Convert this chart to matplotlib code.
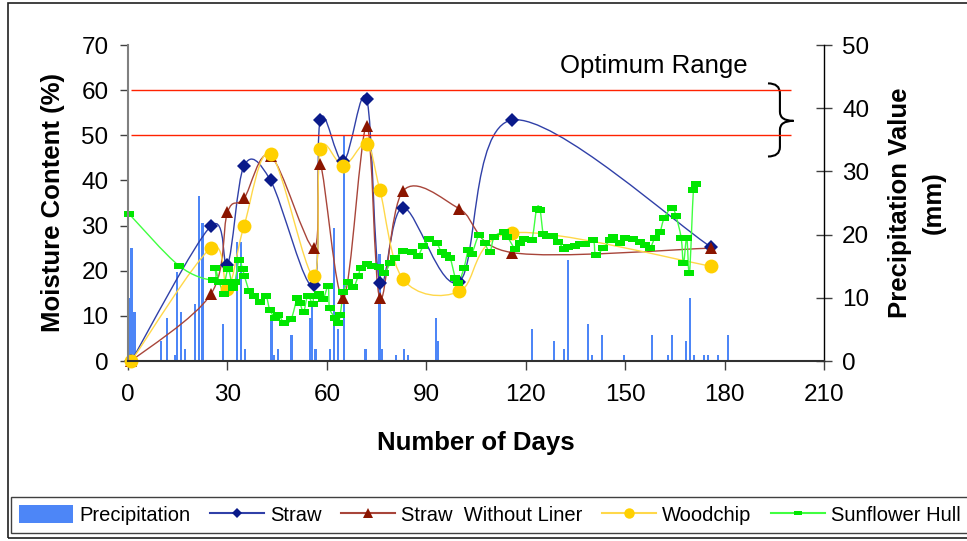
import numpy as np
import matplotlib
matplotlib.use('Agg')
import matplotlib.pyplot as plt
from matplotlib.path import Path
from matplotlib.patches import PathPatch, Rectangle, Patch
from matplotlib.lines import Line2D

plt.rcParams['font.family'] = ['Liberation Sans', 'DejaVu Sans']

# precipitation events (day, mm) - right axis
precip_days = [0.3, 1.1, 2.0, 10.0, 11.7, 14.1, 14.8, 16.0, 17.2, 20.2, 21.4, 22.5,
               28.7, 32.9, 34.0, 35.3, 43.3, 43.9, 45.2, 49.3, 54.9, 55.5, 56.6,
               60.9, 62.1, 63.3, 65.2, 71.7, 75.9, 76.6, 80.8, 83.2, 84.4, 93.0,
               93.6, 121.9, 128.5, 131.6, 132.7, 138.7, 139.9, 143.0, 149.7, 158.1,
               162.9, 164.1, 168.3, 169.6, 170.8, 173.8, 175.0, 178.0, 181.1]
precip_mm = [10.0, 17.9, 7.8, 3.1, 6.8, 0.9, 14.1, 7.8, 1.9, 9.0, 26.1, 21.9,
             5.9, 18.8, 18.8, 1.9, 6.4, 0.9, 1.9, 4.1, 6.8, 9.5, 1.9,
             1.9, 21.1, 5.1, 35.8, 1.9, 16.9, 1.9, 0.9, 1.9, 0.9, 6.8,
             3.2, 5.1, 3.2, 1.9, 16.0, 5.9, 0.9, 4.1, 0.9, 4.1,
             0.9, 4.1, 3.2, 10.0, 0.9, 0.9, 0.9, 0.9, 4.1]

# moisture content samples (%)
sample_days = [1, 25, 30, 35, 43, 56, 58, 65, 72, 76, 83, 100, 116, 176]
straw = [0, 29.9, 21.3, 43.2, 40.0, 16.8, 53.4, 44.2, 58.1, 17.3, 34.0, 17.6, 53.4, 25.2]
straw_no_liner = [0, 14.8, 32.9, 36.0, 45.5, 25.0, 43.6, 13.9, 52.1, 13.9, 37.7, 33.7, 24.0, 25.0]
woodchip = [0, 25.0, 15.9, 29.9, 45.9, 18.8, 46.9, 43.2, 48.1, 37.9, 18.1, 15.4, 28.4, 21.0]

sunflower_days = [0.3, 15.4, 25.6, 26.3, 27.5, 29.1, 29.3, 30.3, 31.6, 32.3, 33.5, 34.6,
                  35.1, 36.6, 38.0, 39.8, 41.6, 42.8, 44.4, 45.4, 47.2, 49.2, 51.1, 51.9,
                  53.0, 54.2, 55.7, 56.1, 57.6, 58.9, 60.4, 60.8, 62.5, 63.4, 64.0, 65.0,
                  66.5, 68.0, 69.5, 70.2, 72.2, 73.5, 75.7, 77.3, 79.1, 80.6, 83.1, 85.6,
                  87.4, 89.1, 90.7, 93.1, 94.6, 96.0, 97.2, 98.8, 99.7, 101.4, 102.7,
                  103.7, 105.9, 107.6, 109.2, 110.5, 113.3, 114.5, 116.9, 118.3, 119.6,
                  121.8, 123.3, 124.3, 125.3, 126.3, 128.2, 129.8, 131.7, 132.9, 134.9,
                  136.4, 137.9, 140.4, 141.1, 143.4, 145.4, 146.4, 148.5, 150.0, 152.5,
                  154.5, 156.0, 157.5, 159.0, 160.5, 161.8, 164.1, 165.3, 166.9, 167.6,
                  168.6, 169.4, 170.6, 171.3]
sunflower = [32.6, 21.1, 17.9, 20.5, 17.5, 14.8, 17.6, 20.3, 16.2, 17.6, 22.4, 20.3,
             18.9, 15.5, 14.5, 13.1, 14.4, 11.3, 9.6, 10.2, 8.4, 9.2, 14.0, 12.8,
             10.9, 14.4, 12.7, 14.4, 14.8, 13.7, 16.6, 11.7, 9.6, 8.4, 10.1, 15.2,
             17.4, 16.3, 18.9, 20.5, 21.4, 21.1, 20.9, 19.4, 21.6, 22.8, 24.3, 24.2,
             23.3, 25.5, 27.0, 26.1, 24.1, 23.5, 22.8, 18.3, 17.2, 20.7, 24.6,
             23.7, 27.9, 26.1, 24.2, 27.5, 28.5, 27.5, 24.8, 26.1, 27.0,
             26.8, 33.7, 33.5, 28.1, 27.6, 27.8, 26.4, 24.8, 25.3, 25.5,
             25.9, 25.9, 26.8, 23.5, 25.0, 26.8, 27.5, 26.1, 27.2, 27.0,
             26.3, 25.7, 25.1, 27.3, 28.6, 31.7, 34.0, 32.2, 27.3, 21.6,
             27.3, 19.4, 37.9, 39.3]

optimum_low, optimum_high = 50, 60


def smooth_path(xs, ys):
    # Excel style smoothed line: cubic bezier through every point
    pts = np.column_stack([xs, ys]).astype(float)
    n = len(pts)
    verts = [pts[0]]
    codes = [Path.MOVETO]
    for i in range(n - 1):
        p0 = pts[max(i - 1, 0)]
        p1 = pts[i]
        p2 = pts[i + 1]
        p3 = pts[min(i + 2, n - 1)]
        verts += [p1 + (p2 - p0) / 6, p2 - (p3 - p1) / 6, p2]
        codes += [Path.CURVE4] * 3
    return Path(verts, codes)


fig = plt.figure(figsize=(9.67, 5.41), dpi=100)
ax = fig.add_axes([128 / 967, 180 / 541, 696 / 967, 316 / 541])
ax2 = ax.twinx()
ax.set_zorder(2)
ax2.set_zorder(1)
ax.patch.set_visible(False)

# precipitation bars
ax2.bar(precip_days, precip_mm, width=0.7, color='#4d86f7', align='center')
ax2.set_ylim(0, 50)
ax2.set_yticks(range(0, 51, 10))

# optimum range lines
ax.hlines([optimum_low, optimum_high], 1, 200, colors='#ff2200', linewidth=1)

rect_marker = [(-1, -0.55), (1, -0.55), (1, 0.55), (-1, 0.55)]
series = [
    ('Straw', straw, sample_days, '#3040a8', 'D', '#0a1a8a', 7.0),
    ('Straw  Without Liner', straw_no_liner, sample_days, '#a8453a', '^', '#8b1500', 9.0),
    ('Woodchip', woodchip, sample_days, '#ffd84a', 'o', '#ffd000', 10.0),
    ('Sunflower Hull', sunflower, sunflower_days, '#40ff40', rect_marker, '#00e600', 7.0),
]

handles = [Patch(facecolor='#4d86f7', label='Precipitation')]
for name, vals, days, lc, mk, mc, ms in series:
    ax.add_patch(PathPatch(smooth_path(days, vals), fill=False, edgecolor=lc, linewidth=1))
    ax.plot(days, vals, linestyle='none', marker=mk, color=mc, markersize=ms,
            markeredgewidth=0, clip_on=False)
    handles.append(Line2D([], [], color=lc, linewidth=1.5, marker=mk, markerfacecolor=mc,
                          markeredgewidth=0, markersize=ms * 0.75, label=name))

ax.set_xlim(0, 210)
ax.set_ylim(0, 70)
ax.set_xticks(range(0, 211, 30))
ax.set_yticks(range(0, 71, 10))

# spines and ticks
for s in ['top', 'right']:
    ax.spines[s].set_visible(False)
for s in ['top', 'left', 'bottom']:
    ax2.spines[s].set_visible(False)
ax.spines['left'].set_color('#808080')
ax.spines['left'].set_linewidth(1.5)
ax.spines['bottom'].set_color('#303030')
ax.spines['bottom'].set_linewidth(1.5)
ax2.spines['right'].set_color('black')
ax2.spines['right'].set_linewidth(1)

ax.tick_params(axis='y', direction='out', length=6, width=1, color='#404040', pad=8, labelsize=17.5)
ax.tick_params(axis='x', direction='out', length=6.5, width=1, color='#404040', pad=10, labelsize=17.5)
ax2.tick_params(axis='y', direction='inout', length=12, width=1, color='#404040', pad=7, labelsize=17.5)

# axis labels
ax.set_ylabel('Moisture Content (%)', fontsize=18.5, fontweight='bold', va='center')
ax.yaxis.set_label_coords(-0.108, 0.5)
ax.set_xlabel('Number of Days', fontsize=18.5, fontweight='bold', va='center')
ax.xaxis.set_label_coords(0.5, -0.26)
ax2.set_ylabel('Precipitation Value\n(mm)', fontsize=18.5, fontweight='bold', va='center',
               ha='center', linespacing=1.5, rotation=90)
ax2.yaxis.set_label_coords(1.1336, 0.5)

# optimum range annotation with brace
fig.text(654 / 967, 1 - 66 / 541, 'Optimum Range', fontsize=18.5, ha='center', va='center')
brace = Path([(193.1, 61.5), (196.7, 61.5), (196.7, 59.3), (196.7, 55.2), (196.7, 53.2),
              (200.8, 53.2), (196.7, 53.2), (196.7, 51.2), (196.7, 47.4), (196.7, 45.3),
              (193.1, 45.3)],
             [Path.MOVETO, Path.CURVE3, Path.CURVE3, Path.LINETO, Path.CURVE3, Path.CURVE3,
              Path.CURVE3, Path.CURVE3, Path.LINETO, Path.CURVE3, Path.CURVE3])
ax.add_patch(PathPatch(brace, fill=False, edgecolor='black', linewidth=1.5, clip_on=False))

# legend across the bottom
fig.legend(handles=handles, loc='lower left', ncol=5, mode='expand',
           bbox_to_anchor=(11 / 967, 8 / 541, 958 / 967, 38 / 541), borderaxespad=0,
           fontsize=14.5, fancybox=False, framealpha=1, edgecolor='#404040',
           handlelength=2.7, handleheight=1.0, handletextpad=0.3, borderpad=0.4,
           columnspacing=0.5)

# outer chart border
fig.patches.append(Rectangle((8 / 967, 3 / 541), 1.0, 535 / 541, transform=fig.transFigure,
                             fill=False, edgecolor='#202020', linewidth=1.2))

fig.savefig('out.png', dpi=100)
